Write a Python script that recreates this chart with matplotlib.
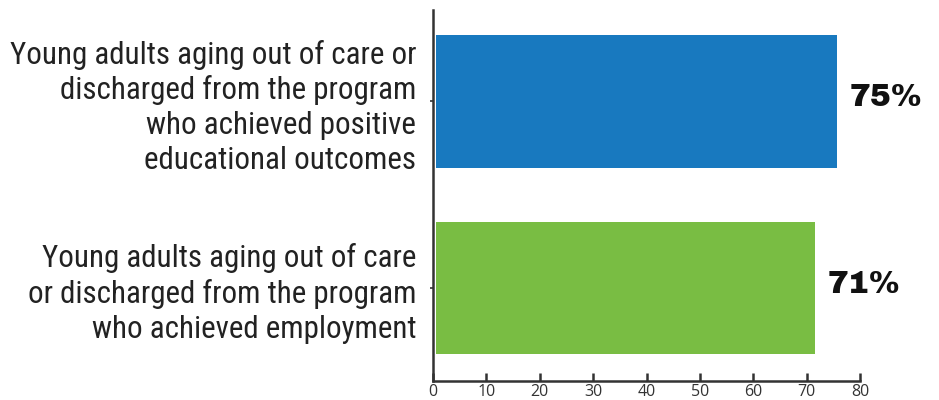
import matplotlib
matplotlib.use("Agg")
import matplotlib.pyplot as plt
from matplotlib import font_manager

categories = [
    "Young adults aging out of care\nor discharged from the program\nwho achieved employment",
    "Young adults aging out of care or\ndischarged from the program\nwho achieved positive\neducational outcomes",
]
values = [71, 75]
value_labels = ["71%", "75%"]
colors = ["#79bd43", "#1879bf"]
xticks = [0, 10, 20, 30, 40, 50, 60, 70, 80]

names = {f.name for f in font_manager.fontManager.ttflist}
def pick(*cands):
    for c in cands:
        if c in names:
            return c
    return "DejaVu Sans"
cond = pick("Roboto Condensed", "Archivo Narrow", "Sofia Sans Condensed")
bold = pick("Archivo Black", "Lato", "DejaVu Sans")
tickf = pick("Open Sans", "DejaVu Sans")

fig = plt.figure(figsize=(9.39, 4.0), dpi=100)
ax = fig.add_axes([0.461, 0.0475, 0.455, 0.9275])

ypos = list(range(len(values)))
ax.barh(ypos, values, height=0.71, left=0.6, color=colors)

for y, v, lab in zip(ypos, values, value_labels):
    ax.text(v + 0.6 + 2.4, y + 0.02, lab, va="center", ha="left",
            fontsize=22.5, fontweight="bold", family=[bold, "DejaVu Sans"], color="#111111")

ax.set_xlim(0, 80)
ax.set_ylim(-0.5, 1.49)
ax.set_xticks(xticks)
ax.set_xticklabels([str(t) for t in xticks], fontsize=11.5, color="#333333",
                   family=[tickf, "DejaVu Sans"])
ax.tick_params(axis="x", direction="in", length=6, width=1.8, color="#333333", pad=2)
ax.set_yticks(ypos)
ax.set_yticklabels(categories, fontsize=22.3, family=[cond, "DejaVu Sans"],
                   color="#222222", linespacing=1.24)
ax.tick_params(axis="y", direction="out", length=2, width=1.2, color="#333333", pad=10)

for s in ["top", "right"]:
    ax.spines[s].set_visible(False)
for s in ["left", "bottom"]:
    ax.spines[s].set_linewidth(1.8)
    ax.spines[s].set_color("#333333")

fig.savefig("out.png", dpi=100)
